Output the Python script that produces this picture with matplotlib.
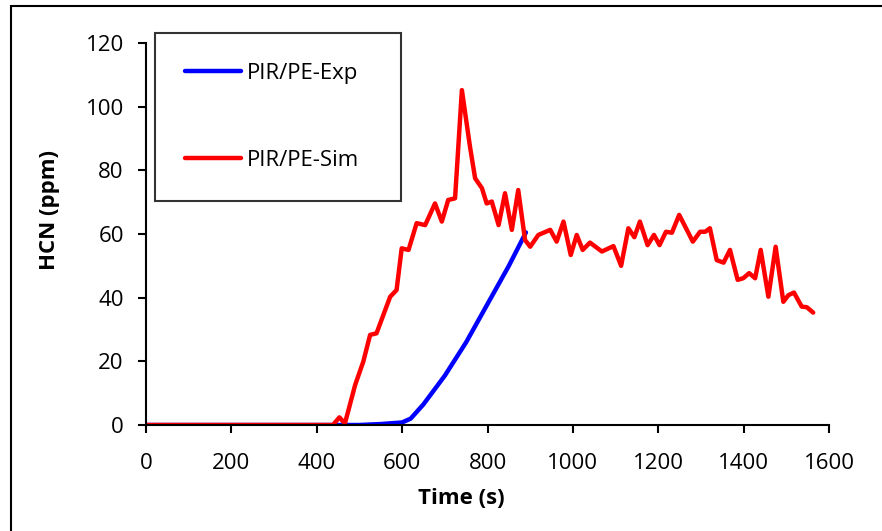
import matplotlib
matplotlib.use("Agg")
import matplotlib.pyplot as plt
from matplotlib.patches import Rectangle

# HCN concentration vs time
exp_time = [0, 100, 200, 300, 400, 500, 550, 600, 620, 650, 675, 700, 750, 800, 850, 890]
exp_hcn = [0, 0, 0, 0, 0, 0, 0.3, 0.8, 2.0, 6.5, 11.0, 15.5, 26.0, 38.0, 50.0, 60.5]

sim_time = [0, 438, 453, 466, 490, 509, 525, 540, 572, 587, 599, 615, 634, 654, 677, 693,
            708, 724, 740, 759, 771, 787, 798, 810, 826, 841, 857, 872, 888, 900, 919, 947,
            962, 978, 995, 1009, 1023, 1040, 1068, 1095, 1113, 1130, 1144, 1157, 1175, 1190,
            1203, 1218, 1232, 1249, 1267, 1281, 1298, 1310, 1321, 1337, 1353, 1368, 1386,
            1399, 1413, 1427, 1440, 1458, 1475, 1493, 1505, 1518, 1536, 1548, 1563]
sim_hcn = [0, 0, 2.4, 0.5, 12.6, 19.9, 28.3, 28.8, 40.3, 42.4, 55.5, 55, 63.4, 62.8, 69.6, 63.9,
           70.7, 71.2, 105.2, 87.4, 77.5, 74.4, 69.6, 70.2, 62.8, 72.8, 61.3, 73.8, 58.1, 56.0, 59.7, 61.3,
           57.6, 63.9, 53.4, 59.7, 55, 57.3, 54.5, 56.2, 50.0, 61.8, 59.0, 63.9, 56.5, 59.7,
           56.5, 60.7, 60.4, 66.0, 61.3, 57.6, 60.7, 60.7, 61.8, 51.8, 51.0, 55, 45.6,
           46.1, 47.7, 46.1, 55, 40.3, 56.0, 38.7, 40.8, 41.6, 37.2, 37.0, 35.3]

plt.rcParams['font.family'] = ['Open Sans', 'DejaVu Sans']

fig = plt.figure(figsize=(8.82, 5.31), dpi=100)
ax = fig.add_axes([146 / 882, 1 - 425 / 531, 683 / 882, 382 / 531])

ax.plot(exp_time, exp_hcn, color="#0000ff", lw=3.2, solid_joinstyle="round",
        solid_capstyle="round", label="PIR/PE-Exp")
ax.plot(sim_time, sim_hcn, color="#ff0000", lw=3.2, solid_joinstyle="round",
        solid_capstyle="round", label="PIR/PE-Sim")

ax.set_xlim(0, 1600)
ax.set_ylim(0, 120)
ax.set_xticks(range(0, 1601, 200))
ax.set_yticks(range(0, 121, 20))
for s in ["top", "right"]:
    ax.spines[s].set_visible(False)
for s in ["left", "bottom"]:
    ax.spines[s].set_linewidth(1.5)
ax.tick_params(direction="out", length=6, width=1.5, labelsize=16)
ax.tick_params(axis="x", pad=14)
ax.tick_params(axis="y", pad=10)
ax.set_xlabel("Time (s)", fontsize=16, fontweight="bold", va="top")
ax.set_ylabel("HCN (ppm)", fontsize=16, fontweight="bold", va="bottom")
ax.xaxis.set_label_coords(0.461, -0.165)
ax.yaxis.set_label_coords(-0.126, 0.563)

leg = fig.legend(loc="upper left", bbox_to_anchor=(155 / 882, 1 - 33 / 531, 246 / 882, 0),
                 mode="expand", fontsize=16, frameon=True, fancybox=False,
                 borderaxespad=0, borderpad=1.35, labelspacing=2.95,
                 handlelength=2.5, handletextpad=0.3)
leg.get_frame().set_edgecolor("black")
leg.get_frame().set_linewidth(1.5)

# outer chart border (only top and left are inside the picture)
fig.patches.append(Rectangle((11 / 882, -0.1), 1.2, 1 - 6 / 531 + 0.1, transform=fig.transFigure,
                             fill=False, edgecolor="black", lw=1.5))

fig.savefig("out.png", dpi=100)
